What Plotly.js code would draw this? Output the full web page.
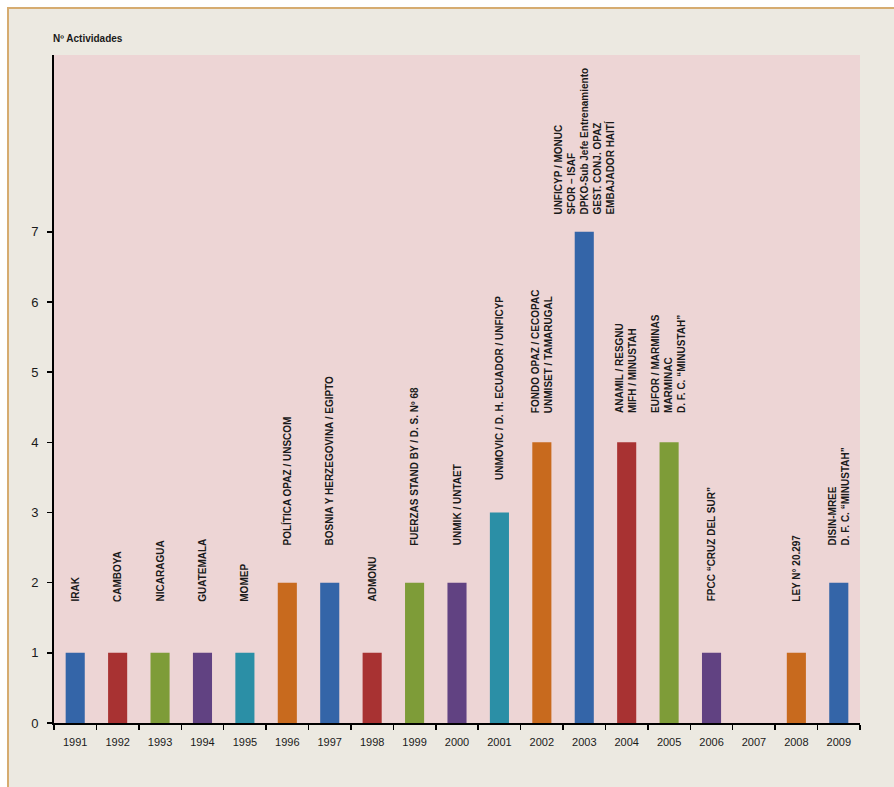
<!DOCTYPE html>
<html>
<head>
<meta charset="utf-8">
<script src="https://cdn.plot.ly/plotly-3.0.1.min.js"></script>
<style>
  html, body { margin: 0; padding: 0; background: #ffffff; width: 894px; height: 787px; overflow: hidden; }
  #frame { position: absolute; left: 7px; top: 7px; width: 887px; height: 780px;
           border-top: 2px solid #D6AC70; border-left: 2px solid #D6AC70; background: #ECE9E1; }
  #chart { width: 887px; height: 780px; }
</style>
</head>
<body>
<div id="frame"><div id="chart"></div></div>
<script>
const years = ["1991","1992","1993","1994","1995","1996","1997","1998","1999","2000",
               "2001","2002","2003","2004","2005","2006","2007","2008","2009"];
const activities = [1,1,1,1,1,2,2,1,2,2,3,4,7,4,4,1,0,1,2];
const labels = [
  "IRAK",
  "CAMBOYA",
  "NICARAGUA",
  "GUATEMALA",
  "MOMEP",
  "POLÍTICA OPAZ / UNSCOM",
  "BOSNIA Y HERZEGOVINA / EGIPTO",
  "ADMONU",
  "FUERZAS STAND BY / D. S. Nº 68",
  "UNMIK / UNTAET",
  "UNMOVIC / D. H. ECUADOR / UNFICYP",
  "FONDO OPAZ / CECOPAC<br>UNMISET / TAMARUGAL",
  "UNFICYP / MONUC<br>SFOR – ISAF<br>DPKO-Sub Jefe Entrenamiento<br>GEST. CONJ. OPAZ<br>EMBAJADOR HAITÍ",
  "ANAMIL / RESGNU<br>MIFH / MINUSTAH",
  "EUFOR / MARMINAS<br>MARMINAC<br>D. F. C. “MINUSTAH”",
  "FPCC “CRUZ DEL SUR”",
  "",
  "LEY N° 20.297",
  "DISIN-MREE<br>D. F. C. “MINUSTAH”"
];
const yTicks = [0,1,2,3,4,5,6,7];

// styling
const palette = ["#3465A8","#A83232","#7E9C38","#614282","#2B8FA6","#C86A1E"];
const barColors = years.map((_, i) => palette[i % palette.length]);
// gap (px) between bar top and label, depends on bar height in the original
const gapByValue = {0: 49, 1: 49, 2: 35, 3: 31, 4: 27, 7: 15};

const trace = {
  type: "bar",
  x: years,
  y: activities,
  marker: { color: barColors, line: { width: 0 } },
  hoverinfo: "x+y"
};

const annotations = [];
years.forEach((yr, i) => {
  if (!labels[i]) return;
  annotations.push({
    x: i, y: activities[i], xref: "x", yref: "y",
    text: "<b>" + labels[i] + "</b>", showarrow: false, textangle: -90,
    xanchor: "center", yanchor: "bottom", align: "left",
    yshift: gapByValue[activities[i]],
    font: { family: "Liberation Sans, Arial, sans-serif", size: 10, color: "#1a1a1a" }
  });
});

annotations.push({
  xref: "paper", yref: "paper", x: 0, y: 1, xanchor: "left", yanchor: "bottom",
  xshift: -3, yshift: 9, showarrow: false,
  text: "<b>Nº Actividades</b>",
  font: { family: "Liberation Sans, Arial, sans-serif", size: 10, color: "#1a1a1a" }
});

const layout = {
  width: 887, height: 780,
  margin: { l: 45, r: 36, t: 46, b: 66, pad: 0 },
  paper_bgcolor: "#ECE9E1",
  plot_bgcolor: "#EDD5D5",
  bargap: 0.55,
  showlegend: false,
  font: { family: "Liberation Sans, Arial, sans-serif", color: "#1a1a1a" },
  xaxis: {
    type: "category",
    range: [-0.5, years.length - 0.5],
    tickson: "boundaries",
    ticks: "outside", ticklen: 5, tickwidth: 1.5, tickcolor: "#000",
    showline: true, linecolor: "#000", linewidth: 2,
    showgrid: false, zeroline: false,
    tickangle: 0,
    tickfont: { size: 11, color: "#1a1a1a" },
    ticklabelstandoff: 8
  },
  yaxis: {
    range: [0, 9.52],
    tickmode: "array", tickvals: yTicks, ticktext: yTicks.map(String),
    ticks: "outside", ticklen: 5, tickwidth: 1.5, tickcolor: "#000",
    showline: true, linecolor: "#000", linewidth: 2,
    showgrid: false, zeroline: false,
    tickfont: { size: 13, color: "#1a1a1a" },
    ticklabelstandoff: 6
  },
  annotations: annotations
};

Plotly.newPlot("chart", [trace], layout, { displayModeBar: false, staticPlot: true });
</script>
</body>
</html>
